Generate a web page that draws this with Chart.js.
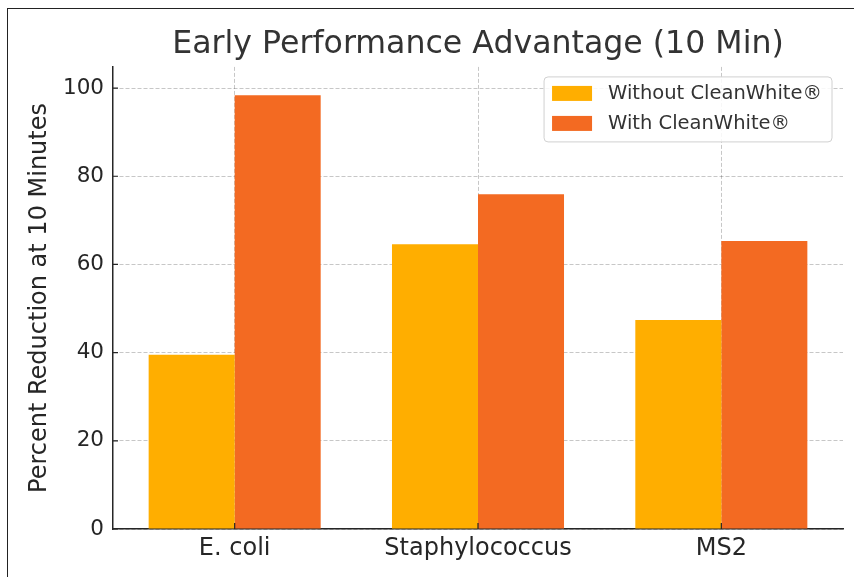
<!DOCTYPE html>
<html>
<head>
<meta charset="utf-8">
<script src="https://cdn.jsdelivr.net/npm/chart.js@4/dist/chart.umd.min.js"></script>
<style>
  html, body { margin: 0; padding: 0; background: #fff; }
  body { width: 854px; height: 577px; position: relative; overflow: hidden; }
  #frame { position: absolute; left: 7px; top: 8px; width: 900px; height: 600px;
           border-top: 1.5px solid #222; border-left: 1.5px solid #222; }
  #chart { position: absolute; left: 0; top: 0; }
</style>
</head>
<body>
<div id="frame"></div>
<canvas id="chart" width="854" height="577"></canvas>
<script>
const categorias = ['E. coli', 'Staphylococcus', 'MS2'];
const sinCleanWhite = [39.5, 64.6, 47.4];
const conCleanWhite = [98.4, 75.9, 65.3];
const ticksY = [0, 20, 40, 60, 80, 100];

const FUENTE = "'DejaVu Sans', sans-serif";
const GRIS = '#262626';

// leyenda dibujada dentro del área del gráfico, arriba a la derecha
const leyendaPlugin = {
    id: 'leyendaCaja',
    afterDraw(chart) {
        const ctx = chart.ctx;
        const area = chart.chartArea;
        ctx.save();
        ctx.font = `19.5px ${FUENTE}`;
        const anchoTexto = Math.max(...chart.data.datasets.map(d => ctx.measureText(d.label).width));
        const ancho = 8 + 40 + 16 + anchoTexto + 10;
        const alto = 65;
        const x = area.right - 11 - ancho;
        const y = area.top + 10;

        ctx.beginPath();
        ctx.roundRect(x, y, ancho, alto, 4);
        ctx.fillStyle = 'rgba(255,255,255,0.85)';
        ctx.fill();
        ctx.strokeStyle = '#d0d0d0';
        ctx.lineWidth = 1;
        ctx.stroke();

        chart.data.datasets.forEach((d, i) => {
            const fila = y + 9 + i * 30;
            ctx.fillStyle = d.backgroundColor;
            ctx.fillRect(x + 8, fila, 40, 15);
            ctx.fillStyle = '#333';
            ctx.textBaseline = 'middle';
            ctx.textAlign = 'left';
            ctx.fillText(d.label, x + 64, fila + 8);
        });
        ctx.restore();
    }
};

// marcas de los ejes hacia dentro, como en el original
const marcasPlugin = {
    id: 'marcasDentro',
    afterDraw(chart) {
        const ctx = chart.ctx;
        const { x, y } = chart.scales;
        ctx.save();
        ctx.strokeStyle = GRIS;
        ctx.lineWidth = 1.2;
        ctx.beginPath();
        y.ticks.forEach(t => {
            const py = y.getPixelForValue(t.value);
            ctx.moveTo(y.right, py);
            ctx.lineTo(y.right + 5, py);
        });
        categorias.forEach((c, i) => {
            const px = x.getPixelForValue(i);
            ctx.moveTo(px, x.top);
            ctx.lineTo(px, x.top - 6);
        });
        ctx.stroke();
        ctx.restore();
    }
};

new Chart(document.getElementById('chart'), {
    type: 'bar',
    data: {
        labels: categorias,
        datasets: [
            { label: 'Without CleanWhite®', data: sinCleanWhite, backgroundColor: '#FFAE00' },
            { label: 'With CleanWhite®', data: conCleanWhite, backgroundColor: '#F36A22' }
        ]
    },
    options: {
        responsive: false,
        animation: false,
        devicePixelRatio: 1,
        categoryPercentage: 0.707,
        barPercentage: 1.0,
        layout: { padding: { left: 0, right: 11, top: 0, bottom: 0 } },
        plugins: {
            legend: { display: false },
            tooltip: { enabled: false },
            title: {
                display: true,
                text: 'Early Performance Advantage (10 Min)',
                fullSize: false,
                color: '#333',
                font: { family: FUENTE, size: 31.6, weight: 'normal' },
                padding: { top: 26, bottom: 3 }
            }
        },
        scales: {
            x: {
                z: 1,
                offset: true,
                grid: {
                    offset: false,
                    drawTicks: false,
                    color: 'rgba(0,0,0,0.22)'
                },
                border: { display: true, color: GRIS, width: 1.5, dash: [4, 2] },
                ticks: {
                    padding: 5,
                    color: GRIS,
                    font: { family: FUENTE, size: 24 }
                },
                afterFit(scale) { scale.height = 48; }
            },
            y: {
                z: 1,
                min: 0,
                max: 104.8,
                afterBuildTicks(scale) {
                    scale.ticks = ticksY.map(v => ({ value: v }));
                },
                grid: {
                    drawTicks: false,
                    color: 'rgba(0,0,0,0.22)'
                },
                border: { display: true, color: GRIS, width: 1.5, dash: [4, 2] },
                ticks: {
                    padding: 9,
                    color: GRIS,
                    font: { family: FUENTE, size: 21.5 }
                },
                title: {
                    display: true,
                    text: 'Percent Reduction at 10 Minutes',
                    color: GRIS,
                    font: { family: FUENTE, size: 24 },
                    padding: { top: 25, bottom: 4 }
                },
                afterFit(scale) { scale.width = 113; }
            }
        }
    },
    plugins: [leyendaPlugin, marcasPlugin]
});
</script>
</body>
</html>
